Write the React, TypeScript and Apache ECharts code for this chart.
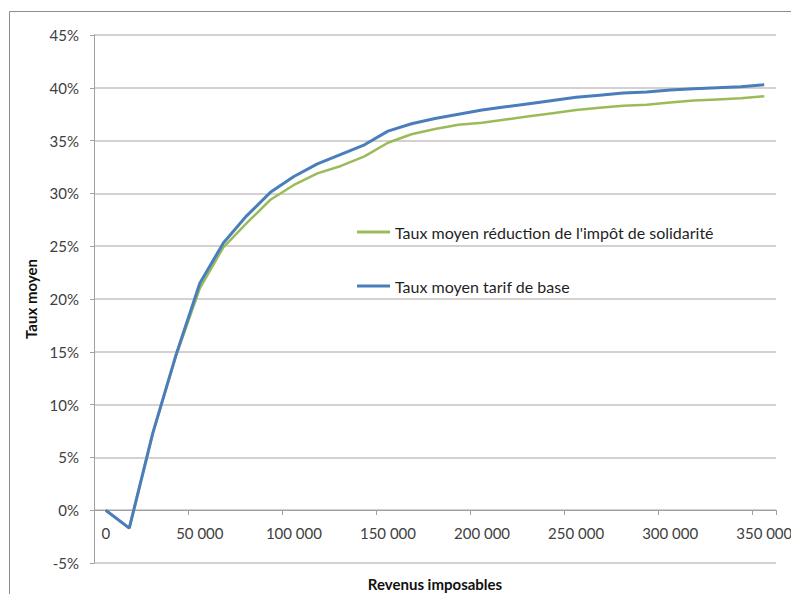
import React, { useEffect, useRef } from "react";
import * as echarts from "echarts";

const revenus: number[] = [
  0, 12500, 25000, 37500, 50000, 62500, 75000, 87500, 100000, 112500, 125000, 137500,
  150000, 162500, 175000, 187500, 200000, 212500, 225000, 237500, 250000, 262500, 275000,
  287500, 300000, 312500, 325000, 337500, 350000,
];

const tauxReduction: number[] = [
  0, -1.7, 7.3, 14.7, 21.0, 24.9, 27.2, 29.4, 30.8, 31.9, 32.6, 33.5, 34.8, 35.6, 36.1,
  36.5, 36.7, 37.0, 37.3, 37.6, 37.9, 38.1, 38.3, 38.4, 38.6, 38.8, 38.9, 39.0, 39.2,
];

const tauxBase: number[] = [
  0, -1.7, 7.3, 14.8, 21.5, 25.3, 27.9, 30.1, 31.6, 32.8, 33.7, 34.6, 35.9, 36.6, 37.1,
  37.5, 37.9, 38.2, 38.5, 38.8, 39.1, 39.3, 39.5, 39.6, 39.8, 39.9, 40.0, 40.1, 40.3,
];

const seriesNames = [
  "Taux moyen réduction de l'impôt de solidarité",
  "Taux moyen tarif de base",
];

const xTitle = "Revenus imposables";
const yTitle = "Taux moyen";

const FONT = "Lato, 'Open Sans', sans-serif";

function fmtThousands(v: number): string {
  const s = String(v);
  return s.replace(/\B(?=(\d{3})+(?!\d))/g, " ");
}

export default function App() {
  const ref = useRef<HTMLDivElement>(null);

  useEffect(() => {
    if (!ref.current) return;
    const chart = echarts.init(ref.current, null, { renderer: "svg" });
    chart.setOption({
      animation: false,
      backgroundColor: "#ffffff",
      textStyle: { fontFamily: FONT },
      graphic: [
        {
          type: "rect",
          shape: { x: 9.5, y: 11.5, width: 900, height: 700 },
          style: { fill: "none", stroke: "#8c8c8c", lineWidth: 1 },
          silent: true,
        },
      ],
      grid: {
        left: 94,
        right: 15,
        top: 35,
        bottom: 31,
        containLabel: false,
        outerBoundsMode: "none",
      },
      legend: {
        orient: "vertical",
        left: 352,
        top: 219,
        icon: "rect",
        itemWidth: 33,
        itemHeight: 3,
        itemGap: 38,
        textStyle: { fontFamily: FONT, fontSize: 16, color: "#1f1f1f" },
        data: seriesNames,
      },
      xAxis: {
        type: "category",
        data: revenus,
        boundaryGap: true,
        position: "bottom",
        offset: -53,
        name: xTitle,
        nameLocation: "middle",
        nameGap: 66,
        nameTextStyle: { fontFamily: FONT, fontSize: 15, fontWeight: "bold", color: "#111" },
        axisLine: { onZero: false, lineStyle: { color: "#a0a0a0", width: 1 } },
        axisTick: { show: true, interval: 3, length: 5, lineStyle: { color: "#a0a0a0" } },
        axisLabel: {
          interval: 3,
          margin: 15,
          fontFamily: FONT,
          fontSize: 15,
          color: "#404040",
          formatter: (v: string) => fmtThousands(Number(v)),
        },
        splitLine: { show: false },
      },
      yAxis: {
        type: "value",
        min: -5,
        max: 45,
        interval: 5,
        name: yTitle,
        nameLocation: "middle",
        nameGap: 56,
        nameTextStyle: { fontFamily: FONT, fontSize: 15, fontWeight: "bold", color: "#111" },
        axisLine: { show: true, lineStyle: { color: "#a0a0a0", width: 1 } },
        axisTick: { show: true, length: 4, lineStyle: { color: "#a0a0a0" } },
        axisLabel: {
          margin: 15,
          fontFamily: FONT,
          fontSize: 15,
          color: "#404040",
          formatter: "{value}%",
        },
        splitLine: { show: true, lineStyle: { color: "#c8c2c2", width: 1.5 } },
      },
      series: [
        {
          name: seriesNames[0],
          type: "line",
          data: tauxReduction,
          showSymbol: false,
          symbol: "none",
          lineStyle: { color: "#9bbb59", width: 2.5 },
          itemStyle: { color: "#9bbb59" },
        },
        {
          name: seriesNames[1],
          type: "line",
          data: tauxBase,
          showSymbol: false,
          symbol: "none",
          lineStyle: { color: "#4a7ebb", width: 3 },
          itemStyle: { color: "#4a7ebb" },
        },
      ],
    });
    return () => chart.dispose();
  }, []);

  return (
    <div
      ref={ref}
      style={{ position: "fixed", left: 0, top: 0, width: 791, height: 594 }}
    />
  );
}
